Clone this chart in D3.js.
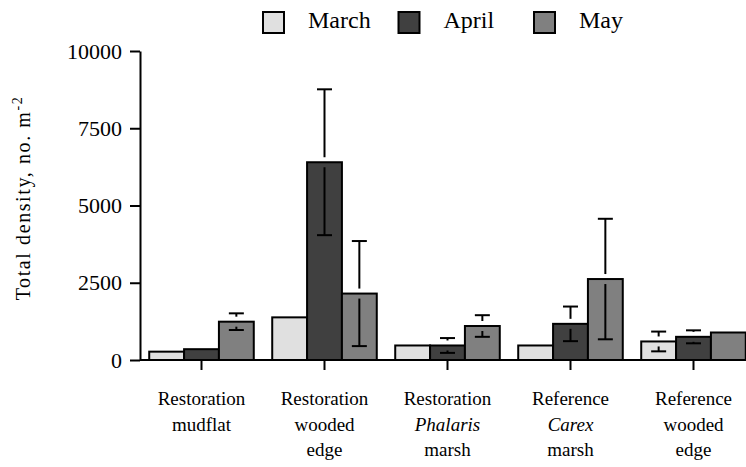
<!DOCTYPE html>
<html>
<head>
<meta charset="utf-8">
<script src="https://cdn.jsdelivr.net/npm/d3@7"></script>
<style>
  body { margin: 0; background: #fff; }
  svg text { fill: #000; }
</style>
</head>
<body>
<script>
// site groups, one line per text row
const sites = [
  ['Restoration', 'mudflat'],
  ['Restoration', 'wooded', 'edge'],
  ['Restoration', 'Phalaris', 'marsh'],
  ['Reference', 'Carex', 'marsh'],
  ['Reference', 'wooded', 'edge']
];
const genusNames = ['Phalaris', 'Carex'];
const months = ['March', 'April', 'May'];

// mean density and standard error (null = no bar drawn)
const marchMean = [270, 1380, 470, 470, 600];
const marchSE = [null, null, null, null, 320];
const aprilMean = [350, 6400, 470, 1170, 750];
const aprilSE = [null, 2360, 240, 560, 210];
const mayMean = [1240, 2150, 1100, 2620, 890];
const maySE = [270, 1700, 350, 1950, null];

const yTicks = [0, 2500, 5000, 7500, 10000];

const fills = { March: '#e0e0e0', April: '#404040', May: '#808080' };
const serif = "'Liberation Serif', 'Times New Roman', Times, Tinos, 'Noto Serif', 'DejaVu Serif', serif";

const width = 746, height = 467;
const svg = d3.select('body').append('svg')
  .attr('width', width)
  .attr('height', height);

const x0 = d3.scaleBand()
  .domain(d3.range(sites.length))
  .range([140, 755])
  .paddingInner(0.15)
  .paddingOuter(0.075);

const x1 = d3.scaleBand()
  .domain(months)
  .range([0, x0.bandwidth()]);

const y = d3.scaleLinear()
  .domain([0, 10000])
  .range([360, 51]);

const series = [
  { month: 'March', mean: marchMean, se: marchSE },
  { month: 'April', mean: aprilMean, se: aprilSE },
  { month: 'May', mean: mayMean, se: maySE }
];

const rows = [];
series.forEach(s => {
  s.mean.forEach((v, i) => {
    rows.push({ site: i, month: s.month, value: v, se: s.se[i] });
  });
});

// bars
svg.append('g').selectAll('rect')
  .data(rows)
  .join('rect')
  .attr('x', d => x0(d.site) + x1(d.month))
  .attr('y', d => y(d.value))
  .attr('width', x1.bandwidth())
  .attr('height', d => y(0) - y(d.value))
  .attr('fill', d => fills[d.month])
  .attr('stroke', '#000')
  .attr('stroke-width', 2);

// error bars, broken around the bar top
const gap = 5, cap = 7.5;
const errs = svg.append('g')
  .attr('stroke', '#000')
  .attr('stroke-width', 2);
rows.filter(d => d.se != null).forEach(d => {
  const cx = x0(d.site) + x1(d.month) + x1.bandwidth() / 2;
  const top = y(d.value);
  const hi = y(d.value + d.se);
  const lo = y(Math.max(0, d.value - d.se));
  errs.append('line').attr('x1', cx).attr('x2', cx).attr('y1', hi).attr('y2', top - gap);
  errs.append('line').attr('x1', cx).attr('x2', cx).attr('y1', top + gap).attr('y2', lo);
  errs.append('line').attr('x1', cx - cap).attr('x2', cx + cap).attr('y1', hi).attr('y2', hi);
  errs.append('line').attr('x1', cx - cap).attr('x2', cx + cap).attr('y1', lo).attr('y2', lo);
});

// y axis
const yAxis = svg.append('g')
  .attr('transform', 'translate(140,0)')
  .call(d3.axisLeft(y).tickValues(yTicks).tickFormat(d3.format('d'))
    .tickSize(10).tickSizeOuter(0).tickPadding(8));
yAxis.select('.domain').attr('stroke-width', 2);
yAxis.selectAll('.tick line').attr('stroke-width', 2);
yAxis.selectAll('.tick text').style('font-family', serif).style('font-size', '22px');

// x axis
const xAxis = svg.append('g')
  .attr('transform', 'translate(0,360)')
  .call(d3.axisBottom(x0).tickSize(10).tickSizeOuter(0).tickFormat(''));
xAxis.select('.domain').attr('stroke-width', 2).attr('d', 'M140,0H755');
xAxis.selectAll('.tick line').attr('stroke-width', 2);

// category labels
const lineY = [405, 430.5, 456];
const labels = svg.append('g').attr('text-anchor', 'middle');
sites.forEach((lines, i) => {
  const t = labels.append('text')
    .style('font-family', serif)
    .style('font-size', '19px');
  lines.forEach((ln, j) => {
    t.append('tspan')
      .attr('x', x0(i) + x0.bandwidth() / 2)
      .attr('y', lineY[j])
      .style('font-style', genusNames.includes(ln) ? 'italic' : 'normal')
      .text(ln);
  });
});

// y title
const yTitle = svg.append('text')
  .attr('transform', 'translate(30,198) rotate(-90)')
  .attr('text-anchor', 'middle')
  .style('font-family', serif)
  .style('font-size', '20px')
  .style('letter-spacing', '1.6px');
yTitle.append('tspan').text('Total density, no.  m');
yTitle.append('tspan').attr('dy', -8).style('font-size', '14px').text('-2');

// legend
const legend = svg.append('g');
months.forEach((m, i) => {
  const lx = 263 + i * 135.5;
  legend.append('rect')
    .attr('x', lx).attr('y', 12)
    .attr('width', 21).attr('height', 21)
    .attr('fill', fills[m])
    .attr('stroke', '#000')
    .attr('stroke-width', 2);
  legend.append('text')
    .attr('x', lx + 45).attr('y', 28)
    .style('font-family', serif)
    .style('font-size', '24px')
    .text(m);
});
</script>
</body>
</html>
